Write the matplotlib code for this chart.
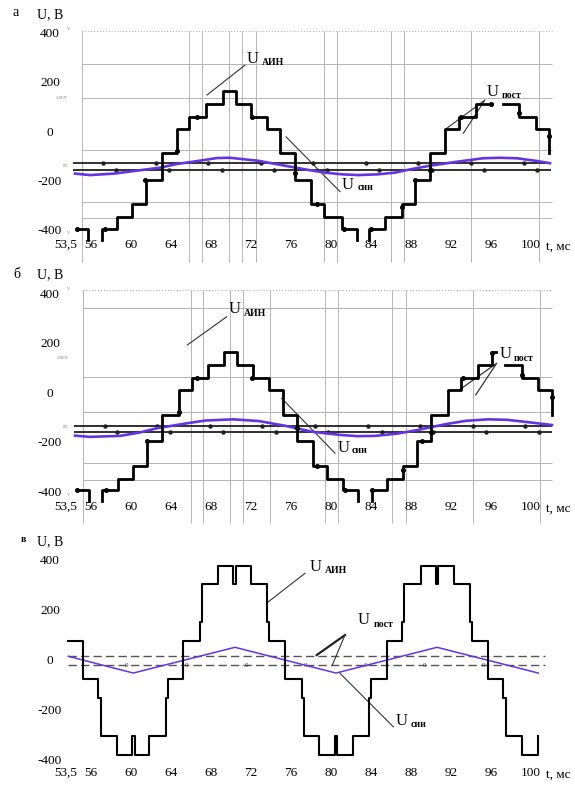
import matplotlib.pyplot as plt
import numpy as np
from matplotlib.transforms import offset_copy

plt.rcParams['font.family'] = ['Liberation Serif', 'DejaVu Serif']

W, H = 575, 797

# shared axes labels
t_ticks = [53.5, 56, 60, 64, 68, 72, 76, 80, 84, 88, 92, 96, 100]
t_tick_labels = ['53,5', '56', '60', '64', '68', '72', '76', '80', '84', '88', '92', '96', '100']
u_ticks = [400, 200, 0, -200, -400]
u_tick_labels = ['400', '200', '0', '-200', '-400']

# ---------- panel а ----------
# step edges (ms) and the level held from each edge to the next
# None = falls below the visible floor, nan = break in the trace
a_step_t = [54.6, 55.7, 57.07, 58.57, 60.13, 61.47, 63.07, 64.57, 65.83, 67.5, 69.17,
            70.47, 72.0, 73.57, 74.9, 76.4, 78.0, 79.33, 81.07, 82.57, 83.83, 85.4,
            87.07, 88.4, 89.9, 91.4, 92.8, 94.47, 96.07, 97.23, 98.83, 100.5, 101.83]
a_step_u = [-397, None, -397, -349, -297, -196, -90, 9, 58, 110, 164,
            110, 58, 9, -90, -196, -297, -349, -397, None, -397, -349,
            -297, -196, -90, 9, 58, 110, np.nan, 110, 58, 9, -90]
a_mark_t = [54.63, 57.4, 61.4, 64.57, 66.57, 72.07, 76.4, 78.57, 81.33, 84.0, 87.07,
            88.4, 89.9, 93.0, 96.0, 98.83, 101.83]
a_mark_u = [-397, -397, -196, -79, 58, 58, -168, -297, -397, -397, -306,
            -196, -157, 58, 110, 73, -20]
a_sin_t = [54.4, 55.9, 58.3, 60.6, 62.9, 64.6, 66.2, 68.6, 69.9, 72.7, 75.4, 77.7, 79.4,
           81.1, 82.7, 84.7, 86.4, 87.9, 89.9, 92.6, 95.2, 96.9, 98.6, 100.6, 101.9]
a_sin_u = [-172, -178, -172, -160, -148, -133, -124, -109, -108, -120, -140, -157, -168,
           -175, -178, -175, -168, -155, -140, -124, -110, -108, -110, -121, -130]
a_post_u = [-130, -157]
a_post_span = [54.2, 102.0]
a_post_hi_marks = [57.2, 62.5, 67.7, 73.0, 78.2, 83.5, 88.7, 94.0, 99.3]
a_post_lo_marks = [58.5, 63.8, 69.1, 74.3, 79.6, 84.8, 90.1, 95.3, 100.6]
a_grid_h = [406, 272, 134, -76, -285, -353]
a_grid_v = [55.1, 65.8, 67.1, 69.8, 71.1, 72.5, 79.3, 80.6, 86.0, 87.3, 94.0, 100.8]

# ---------- panel б ----------
b_step_t = [54.57, 55.83, 57.13, 58.73, 60.23, 61.57, 63.13, 64.8, 66.13, 67.73, 69.33,
            70.63, 72.23, 73.83, 75.17, 76.57, 78.23, 79.57, 81.23, 82.73, 84.07, 85.57,
            87.23, 88.57, 90.0, 91.67, 93.0, 94.67, 96.13, 96.47, 97.4, 99.07, 100.73, 102.07]
b_step_u = [-397, None, -397, -349, -297, -196, -90, 9, 58, 110, 164,
            110, 58, 9, -90, -196, -297, -349, -397, None, -397, -349,
            -297, -196, -90, 9, 58, 110, 164, np.nan, 110, 58, 9, -90]
b_mark_t = [54.63, 57.5, 61.57, 64.8, 66.57, 72.13, 76.57, 78.63, 81.4, 84.13, 87.23,
            89.13, 90.0, 93.23, 96.13, 99.07, 102.07]
b_mark_u = [-397, -397, -196, -78, 58, 58, -145, -297, -397, -397, -314,
            -196, -159, 58, 158, 70, -20]
b_sin_t = [54.4, 55.9, 58.9, 60.8, 62.6, 65.6, 67.4, 70.2, 72.8, 75.4, 78.1, 80.9, 82.6,
           84.4, 86.6, 88.7, 91.4, 93.5, 95.7, 97.6, 99.4, 102.1]
b_sin_u = [-175, -180, -176, -163, -145, -125, -114, -109, -116, -135, -159, -172, -177,
           -176, -167, -152, -129, -115, -109, -111, -119, -132]
b_post_u = [-135, -162]
b_post_span = [54.3, 102.1]
b_post_hi_marks = [57.4, 62.6, 67.9, 73.1, 78.4, 83.7, 88.9, 94.2, 99.4]
b_post_lo_marks = [58.6, 63.9, 69.2, 74.5, 79.7, 85.1, 90.2, 95.5, 100.8]
b_grid_h = [414, 340, 64, -78, -285, -355]
b_grid_v = [55.17, 65.97, 67.23, 69.9, 71.23, 73.9, 79.4, 80.73, 86.13, 87.47, 94.17, 100.9]

# ---------- panel в ----------
c_step_t = [53.73, 55.17, 56.73, 56.97, 58.57, 60.13, 60.37, 61.8, 63.47, 63.67, 65.23,
            66.9, 67.13, 68.73, 70.23, 70.47, 71.97, 73.63, 73.83, 75.4, 77.07, 77.3,
            78.83, 80.4, 80.63, 82.23, 83.8, 83.97, 85.57, 87.07, 87.3, 89.0, 90.47,
            90.7, 92.33, 93.9, 94.13, 95.7, 97.23, 97.5, 99.07, 100.65]
c_step_u = [73, -79, -156, -306, -383, -306, -383, -306, -156, -79, 73,
            148, 300, 374, 300, 374, 300, 148, 73, -79, -156, -306,
            -383, -306, -383, -306, -156, -79, 73, 148, 300, 374, 300,
            374, 300, 148, 73, -79, -156, -306, -383, -306]
c_sin_t = [53.73, 60.23, 70.4, 80.5, 90.6, 100.73]
c_sin_u = [12, -55, 48, -55, 48, -55]
c_post_u = [14, -23]
c_post_span = [53.7, 101.4]
c_zero_marks = [59.57, 65.57, 71.57, 77.47, 83.4, 89.33, 95.3]

PURPLE = '#6633e0'


def stair(edges, levels, floor):
    xs, ys = [], []
    for i, (t0, u) in enumerate(zip(edges, levels)):
        t1 = edges[i + 1] if i + 1 < len(edges) else t0
        if u is None:
            xs += [t0, np.nan, t1]
            ys += [floor, np.nan, floor]
        elif np.isnan(u):
            xs.append(np.nan)
            ys.append(np.nan)
        else:
            xs += [t0, t1]
            ys += [u, u]
    return xs, ys


fig = plt.figure(figsize=(W / 100, H / 100), dpi=100)


def make_axes(top_px, bot_px, zero_px, v_per_px):
    ax = fig.add_axes([60 / W, 1 - bot_px / H, 505 / W, (bot_px - top_px) / H])
    ax.set_xlim(52.9, 103.4)
    ax.set_ylim((zero_px - bot_px) * v_per_px, (zero_px - top_px) * v_per_px)
    ax.set_xticks(t_ticks, t_tick_labels)
    ax.set_yticks(u_ticks, u_tick_labels)
    ax.tick_params(length=0, labelsize=9.5)
    ax.tick_params(axis='x', pad=0)
    ax.tick_params(axis='y', pad=7.2)
    for lab in ax.get_yticklabels():
        lab.set_horizontalalignment('center')
    for s in ax.spines.values():
        s.set_visible(False)
    ax.patch.set_alpha(0)
    return ax


def u_label(ax, t, u, sub, dx=9, dy=-4):
    ax.text(t, u, 'U', fontsize=12, ha='center', va='center')
    tr = offset_copy(ax.transData, fig=fig, x=dx, y=dy, units='dots')
    ax.text(t, u, sub, transform=tr, fontsize=7, fontweight='bold', ha='left', va='center')


def scope_panel(ax, grid_h, grid_v, v_bottom, step_t, step_u, mark_t, mark_u,
                sin_t, sin_u, post_u, post_span, hi_marks, lo_marks, tiny):
    ax.hlines(grid_h[1:], grid_v[0], 102.1, color='#a8a8a8', lw=0.6, zorder=1)
    ax.hlines(grid_h[0], grid_v[0], 102.1, color='#a8a8a8', lw=0.7, ls=(0, (1, 2)), zorder=1)
    ax.vlines(grid_v, v_bottom, grid_h[0], color='#a8a8a8', lw=0.6, zorder=1, clip_on=False)
    ax.hlines(post_u, post_span[0], post_span[1], color='#202020', lw=1.3, zorder=3)
    ax.plot(hi_marks, [post_u[0]] * len(hi_marks), 'o', color='#202020', ms=2.2, zorder=3)
    ax.plot(lo_marks, [post_u[1]] * len(lo_marks), 'o', color='#202020', ms=2.2, zorder=3)
    ax.plot(sin_t, sin_u, color=PURPLE, lw=1.9, zorder=4)
    xs, ys = stair(step_t, step_u, -440)
    ax.plot(xs, ys, color='black', lw=2.0, zorder=5, clip_on=False)
    ax.plot(mark_t, mark_u, 'o', color='black', ms=2.6, zorder=5)
    for t, u, s in tiny:
        ax.text(t, u, s, fontsize=3.5, color='#808080', ha='center', va='center')


# ----- а -----
ax_a = make_axes(22, 239, 131.1, 4.047)
scope_panel(ax_a, a_grid_h, a_grid_v, -530, a_step_t, a_step_u, a_mark_t, a_mark_u,
            a_sin_t, a_sin_u, a_post_u, a_post_span, a_post_hi_marks, a_post_lo_marks,
            [(53.73, 412, 'V'), (53.1, 135, '2.00V'), (53.5, -140, '0V'), (53.73, -414, 'V')])
ax_a.plot([71.4, 67.6], [267, 146], color='#333333', lw=0.8)
ax_a.plot([75.5, 80.9], [-23, -245], color='#333333', lw=0.8)
ax_a.plot([91.57, 95.4, 93.23], [11, 126, -9], color='#333333', lw=0.8)
u_label(ax_a, 72.2, 292, 'АИН')
u_label(ax_a, 81.7, -218, 'син', dx=10, dy=-3)
u_label(ax_a, 96.2, 160, 'пост', dx=9, dy=-4)

# ----- б -----
ax_b = make_axes(283, 500.5, 392.4, 4.047)
scope_panel(ax_b, b_grid_h, b_grid_v, -528, b_step_t, b_step_u, b_mark_t, b_mark_u,
            b_sin_t, b_sin_u, b_post_u, b_post_span, b_post_hi_marks, b_post_lo_marks,
            [(53.73, 418, 'V'), (53.2, 138, '2.00V'), (53.5, -139, '0V'), (53.73, -415, 'V')])
ax_b.plot([69.57, 65.63], [306, 192], color='#333333', lw=0.8)
ax_b.plot([75.07, 80.4], [-24, -246], color='#333333', lw=0.8)
ax_b.plot([92.9, 96.57, 94.47], [12, 118, -10], color='#333333', lw=0.9)
u_label(ax_b, 70.4, 337, 'АИН')
u_label(ax_b, 81.3, -223, 'син', dx=8, dy=-3)
u_label(ax_b, 97.5, 155, 'пост', dx=8, dy=-4)

# ----- в -----
ax_c = make_axes(548, 766.5, 659.3, 4.0)
ax_c.hlines(c_post_u, c_post_span[0], c_post_span[1], color='#555555', lw=1.0,
            linestyles=(0, (6, 3)), zorder=2)
for t in c_zero_marks:
    ax_c.text(t, c_post_u[1], '0', fontsize=5, color='#333333', ha='center', va='center', zorder=3)
ax_c.plot(c_sin_t, c_sin_u, color=PURPLE, lw=1.1, zorder=4)
xs, ys = stair(c_step_t, c_step_u, -440)
ax_c.plot(xs, ys, color='black', lw=1.5, zorder=5)
ax_c.plot([77.4, 73.73], [344, 230], color='#333333', lw=0.8)
ax_c.plot([78.57, 81.4], [17, 97], color='#222222', lw=1.6)
ax_c.plot([81.4, 80.13], [97, -23], color='#333333', lw=0.8)
ax_c.plot([86.23, 80.9], [-270, -56], color='#333333', lw=0.8)
u_label(ax_c, 78.45, 369, 'АИН', dx=9, dy=-3)
u_label(ax_c, 83.3, 157, 'пост', dx=10, dy=-4)
u_label(ax_c, 87.07, -247, 'син', dx=9, dy=-3)

# panel captions
for (lx, ly, letter, lfs, tx_y, ly_u) in [(15.7, 12.3, 'а', 10, 246.7, 15),
                                          (17, 275, 'б', 10, 508.3, 275),
                                          (23, 539, 'в', 7, 774.3, 541.7)]:
    fig.text(lx / W, 1 - ly / H, letter, fontsize=lfs, ha='center', va='center',
             fontweight='bold' if lfs < 9 else 'normal')
    fig.text(50 / W, 1 - ly_u / H, 'U, В', fontsize=10, ha='center', va='center')
    fig.text(558 / W, 1 - tx_y / H, 't, мс', fontsize=9.5, ha='center', va='center')

fig.savefig('out.png', dpi=100, facecolor='white')
